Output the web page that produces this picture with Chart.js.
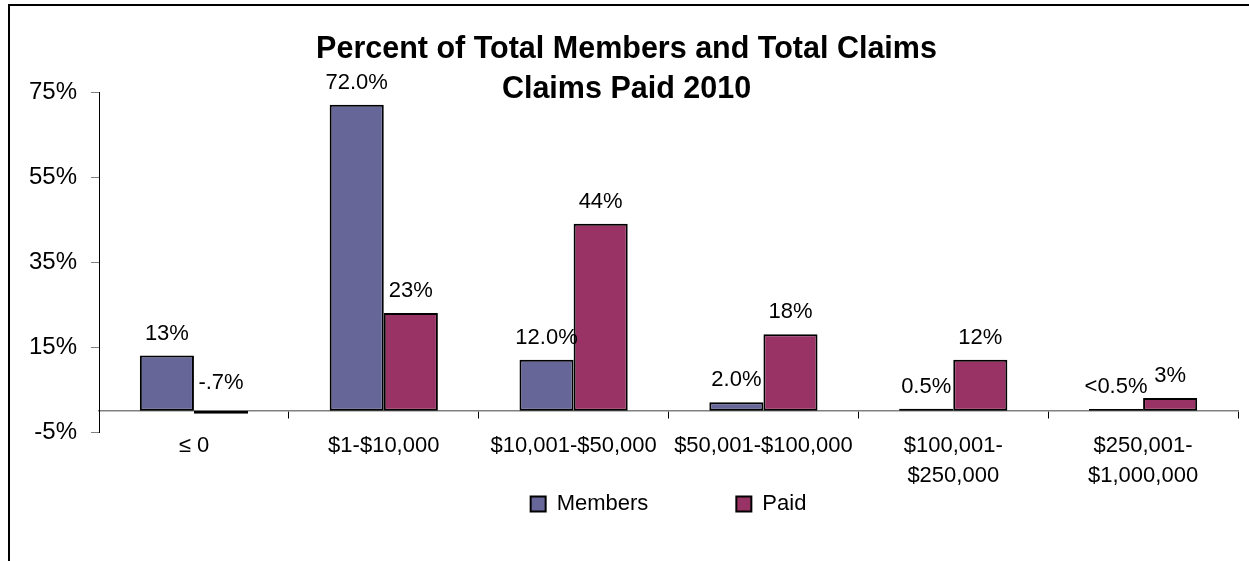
<!DOCTYPE html>
<html>
<head>
<meta charset="utf-8">
<script src="https://cdn.jsdelivr.net/npm/chart.js@4.4.1/dist/chart.umd.min.js"></script>
<style>
  html, body { margin: 0; padding: 0; background: #fff; overflow: hidden; }
  #wrap { position: relative; width: 1249px; height: 561px; }
  #frame { position: absolute; left: 8px; top: 4px; width: 1400px; height: 700px;
           border-top: 2px solid #000; border-left: 2px solid #000; pointer-events: none; }
</style>
</head>
<body>
<div id="wrap">
  <canvas id="chart"></canvas>
  <div id="frame"></div>
</div>
<script>
const categories = ['\u2264 0', '$1-$10,000', '$10,001-$50,000', '$50,001-$100,000',
  ['$100,001-', '$250,000'], ['$250,001-', '$1,000,000']];
const members = [13, 72, 12, 2, 0.5, 0.4];
const paid = [-0.7, 23, 44, 18, 12, 3];
const memberLabels = ['13%', '72.0%', '12.0%', '2.0%', '0.5%', '<0.5%'];
const paidLabels = ['-.7%', '23%', '44%', '18%', '12%', '3%'];
const titleLines = ['Percent of Total Members and Total Claims', 'Claims Paid 2010'];

const FONT = '"Liberation Sans", Arial, sans-serif';

// value labels above each bar
const valueLabels = {
  id: 'valueLabels',
  afterDatasetsDraw(chart) {
    const ctx = chart.ctx;
    const y = chart.scales.y;
    ctx.save();
    ctx.font = '22px ' + FONT;
    ctx.fillStyle = '#000';
    ctx.textAlign = 'center';
    ctx.textBaseline = 'alphabetic';
    chart.data.datasets.forEach((ds, i) => {
      chart.getDatasetMeta(i).data.forEach((bar, j) => {
        const v = ds.data[j];
        const top = y.getPixelForValue(Math.max(v, 0));
        ctx.fillText(ds.valueText[j], bar.x, top - (v < 0 ? 22 : 16));
      });
    });
    ctx.restore();
  }
};

new Chart(document.getElementById('chart'), {
  type: 'bar',
  data: {
    labels: categories,
    datasets: [
      { label: 'Members', data: members, valueText: memberLabels,
        backgroundColor: '#666699', borderColor: '#000', borderWidth: 2, borderSkipped: false },
      { label: 'Paid', data: paid, valueText: paidLabels,
        backgroundColor: '#993366', borderColor: '#000', borderWidth: 2, borderSkipped: false }
    ]
  },
  options: {
    responsive: true,
    maintainAspectRatio: false,
    animation: false,
    layout: { padding: { top: 8, left: 15, right: 11, bottom: 36 } },
    datasets: { bar: { categoryPercentage: 0.57, barPercentage: 1.0 } },
    scales: {
      x: {
        position: { y: 0 },
        grid: { drawOnChartArea: false, tickLength: 7, color: '#000', lineWidth: 1, offset: true },
        border: { color: '#808080', width: 1.5 },
        ticks: { color: '#000', padding: 13, maxRotation: 0, autoSkip: false,
                 font: { family: FONT, size: 22, lineHeight: 1.36 } }
      },
      y: {
        min: -5, max: 75,
        grid: { drawOnChartArea: false, tickLength: 8, color: '#808080' },
        border: { color: '#000', width: 1 },
        ticks: { stepSize: 20, padding: 14, color: '#000',
                 font: { family: FONT, size: 24 },
                 callback: v => v + '%' }
      }
    },
    plugins: {
      tooltip: { enabled: false },
      title: {
        display: true,
        text: titleLines,
        color: '#000',
        font: { family: FONT, size: 30.5, weight: 'bold', lineHeight: 40 / 30.5 },
        padding: { top: 22, bottom: -18 }
      },
      legend: {
        position: 'bottom',
        fullSize: false,
        title: { display: true, text: '', font: { size: 1 }, padding: { top: -14, bottom: -14.2 } },
        labels: {
          color: '#000',
          boxWidth: 15,
          boxHeight: 15,
          padding: 88,
          font: { family: FONT, size: 22 }
        }
      }
    }
  },
  plugins: [valueLabels]
});
</script>
</body>
</html>
